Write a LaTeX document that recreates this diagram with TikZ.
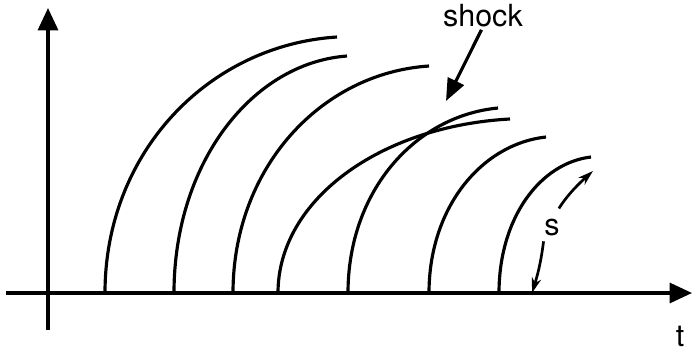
\documentclass[tikz,border=0pt]{standalone}
\usepackage{fontspec}
\setmainfont{TeX Gyre Heros}
\usetikzlibrary{arrows.meta}
\newcommand{\sWaveFont}{\fontsize{26}{30}\selectfont}

\begin{document}
\begin{tikzpicture}[x=0.03cm,y=-0.03cm,
  waveLine/.style={line width=2.7pt},
  axisLine/.style={line width=2.8pt,-{Triangle[length=19pt,width=17pt]}},
  pointerLine/.style={line width=2.7pt,-{Triangle[length=19pt,width=15pt]}},
  sLine/.style={line width=2.3pt,-{Stealth[length=13pt,width=8pt]}},
  labelText/.style={inner sep=0pt,font=\sWaveFont}]
\useasboundingbox (0,0) rectangle (692,352);
\coordinate (tStart) at (6,293);
\coordinate (tEnd) at (692,293);
\coordinate (yStart) at (48,330);
\coordinate (yEnd) at (48,8);
\draw[axisLine] (tStart) -- (tEnd);
\draw[axisLine] (yStart) -- (yEnd);
\draw[waveLine] (105,293) .. controls (105,152) and (209,45) .. (337,37);
\draw[waveLine] (174,293) .. controls (174,163) and (252,63) .. (347,56);
\draw[waveLine] (233,293) .. controls (233,168) and (321,73) .. (429,66);
\draw[waveLine] (278,293) .. controls (278,200) and (380,126) .. (510,119);
\draw[waveLine] (348,293) .. controls (348,191) and (415,116) .. (498,108);
\draw[waveLine] (429,293) .. controls (429,207) and (482,144) .. (546,137);
\draw[waveLine] (499,293) .. controls (499,218) and (540,163) .. (591,157);
\node[labelText, anchor=base] (shock) at (483,26) {shock};
\coordinate (shockTip) at (446,101);
\draw[pointerLine, shorten <=3pt] (shock.south) -- (shockTip);
\node[labelText] (s) at (552,228) {s};
\coordinate (sTop) at (593,171);
\coordinate (sBot) at (532,293);
\draw[sLine, shorten <=11pt] (s.north) to[bend left=8] (sTop);
\draw[sLine, shorten <=4pt] (s.south west) to[bend left=5] (sBot);
\node[labelText] (t) at (680,336) {t};
\end{tikzpicture}
\end{document}
